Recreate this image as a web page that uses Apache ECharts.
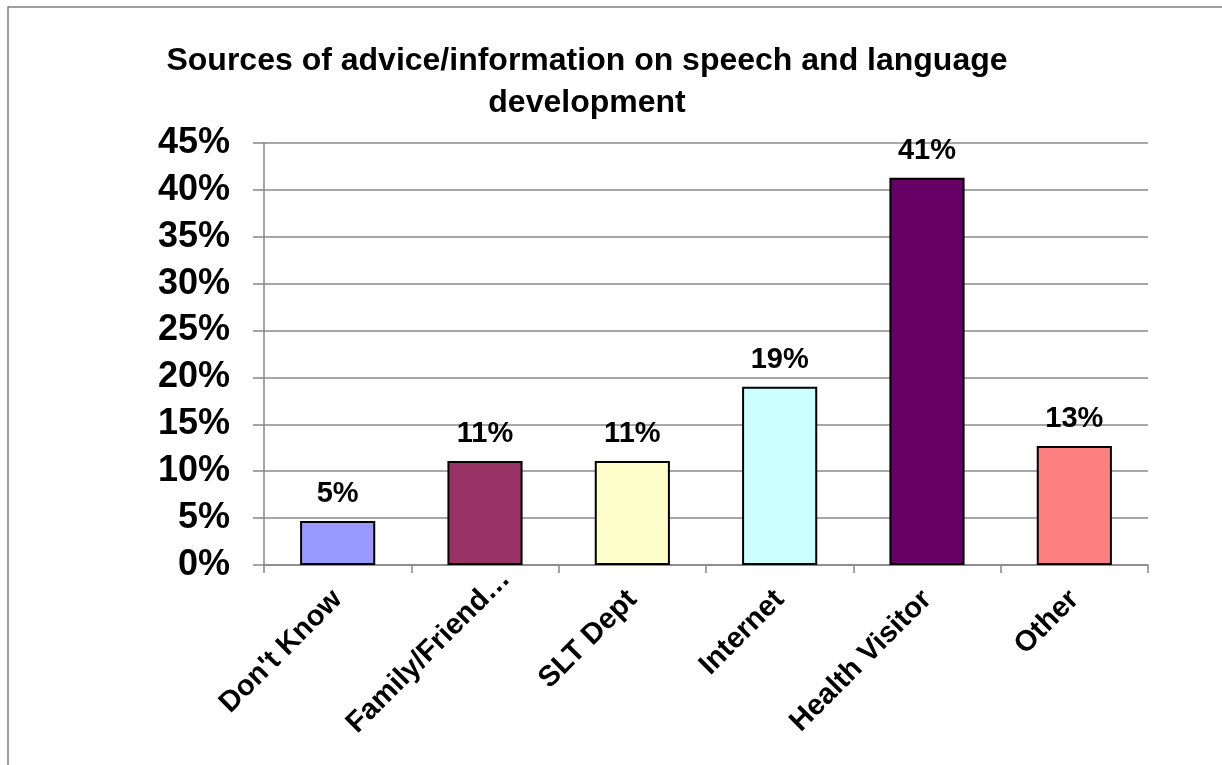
<!DOCTYPE html>
<html>
<head>
<meta charset="utf-8">
<style>
  html, body { margin: 0; padding: 0; background: #ffffff; }
  #chart { width: 1222px; height: 765px; }
</style>
<script src="https://cdn.jsdelivr.net/npm/echarts@6/dist/echarts.min.js"></script>
</head>
<body>
<div id="chart"></div>
<script>
// Survey answers: where parents get advice on speech and language development
const categories = ["Don't Know", "Family/Friend\u2026", "SLT Dept", "Internet", "Health Visitor", "Other"];
const shares = [0.047, 0.111, 0.111, 0.190, 0.413, 0.127];
const barColors = ["#9999FF", "#993366", "#FFFFCC", "#CCFFFF", "#660066", "#FF8080"];
const titleLines = ["Sources of advice/information on speech and language", "development"];

const FONT = "'Liberation Sans', Arial, sans-serif";
const pct = v => Math.round(v * 100) + '%';

const chart = echarts.init(document.getElementById('chart'), null, { renderer: 'canvas' });

// The truncated "Family/Friend…" label sits a little further along its diagonal
const categoryItems = categories.map((name, i) =>
  i === 1 ? { value: name, textStyle: { padding: [0, -29, 0, 0] } } : name
);

chart.setOption({
  backgroundColor: '#ffffff',
  animation: false,
  graphic: [
    {
      type: 'polyline',
      silent: true,
      shape: { points: [[8, 765], [8, 7], [1222, 7]] },
      style: { stroke: '#808080', lineWidth: 1.5, fill: null }
    },
    {
      type: 'text',
      silent: true,
      x: 587,
      y: 40,
      style: {
        text: titleLines.join('\n'),
        font: 'bold 32px ' + FONT,
        fill: '#000000',
        align: 'center',
        verticalAlign: 'top',
        lineHeight: 42
      }
    }
  ],
  grid: { left: 264, right: 74, top: 143, bottom: 200, containLabel: false },
  xAxis: {
    type: 'category',
    data: categoryItems,
    boundaryGap: true,
    axisLine: { show: true, lineStyle: { color: '#868686', width: 1.5 } },
    axisTick: { show: true, length: 8, alignWithLabel: false, lineStyle: { color: '#868686', width: 1.5 } },
    axisLabel: {
      interval: 0,
      rotate: 45,
      margin: 30,
      color: '#000000',
      fontFamily: FONT,
      fontWeight: 'bold',
      fontSize: 29
    },
    splitLine: { show: false }
  },
  yAxis: {
    type: 'value',
    min: 0,
    max: 0.45,
    interval: 0.05,
    axisLine: { show: true, lineStyle: { color: '#868686', width: 1.5 } },
    axisTick: { show: true, length: 11, lineStyle: { color: '#868686', width: 1.5 } },
    axisLabel: {
      margin: 34,
      formatter: pct,
      color: '#000000',
      fontFamily: FONT,
      fontWeight: 'bold',
      fontSize: 36
    },
    splitLine: { show: true, lineStyle: { color: '#8a8a8a', width: 1.5 } }
  },
  series: [
    {
      type: 'bar',
      barWidth: '51%',
      data: shares.map((v, i) => ({
        value: v,
        itemStyle: { color: barColors[i], borderColor: '#000000', borderWidth: 2 }
      })),
      label: {
        show: true,
        position: 'top',
        distance: 12,
        formatter: p => pct(p.value),
        color: '#000000',
        fontFamily: FONT,
        fontWeight: 'bold',
        fontSize: 29
      }
    }
  ]
});
</script>
</body>
</html>
